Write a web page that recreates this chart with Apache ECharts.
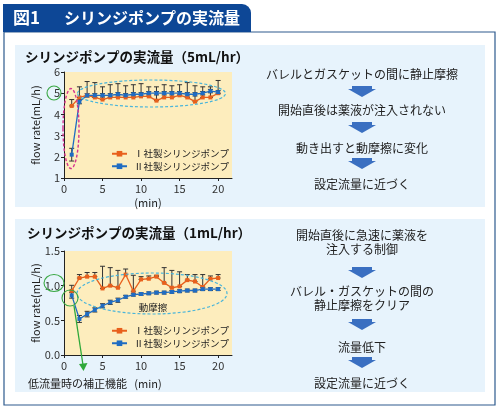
<!DOCTYPE html>
<html>
<head>
<meta charset="utf-8">
<script src="https://cdn.jsdelivr.net/npm/echarts@6.0.0/dist/echarts.min.js"></script>
<style>
  html, body { margin: 0; padding: 0; background: #fff; }
  #main { width: 500px; height: 408px; }
</style>
</head>
<body>
<div id="main"></div>
<script>
// time points (min)
const minutes = [1, 2, 3, 4, 5, 6, 7, 8, 9, 10, 11, 12, 13, 14, 15, 16, 17, 18, 19, 20];
const xTickValues = [0, 5, 10, 15, 20];
const pumpNames = ['Ⅰ社製シリンジポンプ', 'Ⅱ社製シリンジポンプ'];

// 5 mL/hr
const pumpI_5 = [4.4, 4.8, 4.9, 4.8, 4.7, 4.8, 4.8, 4.8, 4.8, 4.85, 4.85, 4.65, 4.8, 4.8, 4.9, 4.8, 4.6, 4.8, 4.8, 5.0];
const pumpII_5 = [2.1, 4.6, 4.9, 4.9, 4.9, 4.9, 4.95, 4.9, 4.95, 4.95, 5.0, 5.0, 5.0, 5.0, 5.0, 4.95, 4.95, 5.0, 5.1, 5.05];
const pumpI_5_errUp = [0.3, 0.5, 0.65, 0.7, 0.6, 0.6, 0.65, 0.55, 0.6, 0.6, 0.45, 0.65, 0.6, 0.55, 0.5, 0.7, 0.75, 0.5, 0.5, 0.6];
const pumpII_5_err = [0.3, 0.1, 0.08, 0.08, 0.08, 0.08, 0.08, 0.08, 0.08, 0.08, 0.08, 0.08, 0.08, 0.08, 0.08, 0.08, 0.08, 0.08, 0.08, 0.08];

// 1 mL/hr
const pumpI_1 = [0.925, 1.11, 1.13, 1.13, 0.96, 1.0, 0.97, 1.16, 0.92, 1.09, 1.1, 1.13, 1.04, 0.97, 0.99, 1.08, 1.06, 0.98, 1.1, 1.11];
const pumpII_1 = [0.86, 0.52, 0.59, 0.65, 0.71, 0.76, 0.79, 0.84, 0.87, 0.88, 0.89, 0.9, 0.9, 0.91, 0.92, 0.93, 0.93, 0.95, 0.95, 0.95];
const pumpI_1_errUp = [0.08, 0.05, 0.06, 0.06, 0.32, 0.26, 0.25, 0.08, 0.23, 0.04, 0.04, 0.02, 0.22, 0.25, 0.21, 0.08, 0.1, 0.18, 0.04, 0.05];
const pumpII_1_err = [0.04, 0.05, 0.04, 0.03, 0.03, 0.03, 0.03, 0.02, 0.02, 0.02, 0.02, 0.02, 0.02, 0.02, 0.02, 0.02, 0.02, 0.02, 0.02, 0.02];

// flow chart texts
const steps5 = ['バレルとガスケットの間に静止摩擦', '開始直後は薬液が注入されない', '動き出すと動摩擦に変化', '設定流量に近づく'];
const steps1 = ['開始直後に急速に薬液を\n注入する制御', 'バレル・ガスケットの間の\n静止摩擦をクリア', '流量低下', '設定流量に近づく'];

const FONT = '"Noto Sans CJK JP", "Noto Sans", sans-serif';
const ORANGE = '#e8601c';
const BLUE = '#1f6cc2';
const NAVY = '#0d4796';

const chart = echarts.init(document.getElementById('main'));

function errRender(params, api) {
  const x = api.value(0);
  const lo = api.coord([x, api.value(1)]);
  const hi = api.coord([x, api.value(2)]);
  const c = 2.5;
  const st = { stroke: '#333', lineWidth: 1 };
  return {
    type: 'group',
    children: [
      { type: 'line', shape: { x1: lo[0], y1: lo[1], x2: hi[0], y2: hi[1] }, style: st },
      { type: 'line', shape: { x1: hi[0] - c, y1: hi[1], x2: hi[0] + c, y2: hi[1] }, style: st },
      { type: 'line', shape: { x1: lo[0] - c, y1: lo[1], x2: lo[0] + c, y2: lo[1] }, style: st }
    ]
  };
}

const upOnly = (vals, up) => minutes.map((m, i) => [m, vals[i], +(vals[i] + up[i]).toFixed(3)]);
const both = (vals, sd) => minutes.map((m, i) => [m, +(vals[i] - sd[i]).toFixed(3), +(vals[i] + sd[i]).toFixed(3)]);
const pts = (vals) => minutes.map((m, i) => [m, vals[i]]);

function xAxisOf(idx, nameGap) {
  return {
    type: 'value', gridIndex: idx, min: 0, max: 21.8,
    name: '(min)', nameLocation: 'middle', nameGap: nameGap,
    nameTextStyle: { fontFamily: FONT, fontSize: 11, color: '#222' },
    axisLine: { lineStyle: { color: '#222', width: 1 } },
    axisTick: { customValues: xTickValues, length: 3, lineStyle: { color: '#222' } },
    axisLabel: { customValues: xTickValues, fontFamily: FONT, fontSize: 11, color: '#333', margin: 5 },
    splitLine: { show: false }
  };
}
function yAxisOf(idx, min, max, interval, fmt) {
  return {
    type: 'value', gridIndex: idx, min: min, max: max, interval: interval,
    name: 'flow rate(mL/h)', nameLocation: 'middle', nameGap: 23, nameRotate: 90,
    nameTextStyle: { fontFamily: FONT, fontSize: 11, color: '#222' },
    axisLine: { show: true, lineStyle: { color: '#222', width: 1 } },
    axisTick: { show: true, length: 3, lineStyle: { color: '#222' } },
    axisLabel: { fontFamily: FONT, fontSize: 11, color: '#333', margin: 4, formatter: fmt },
    splitLine: { show: false }
  };
}
function lineSeries(name, data, color, xi) {
  return {
    name: name, type: 'line', xAxisIndex: xi, yAxisIndex: xi, data: data,
    symbol: 'rect', symbolSize: 4, z: 4,
    lineStyle: { color: color, width: 1.3 }, itemStyle: { color: color },
    animation: false
  };
}
function errSeries(data, xi) {
  return {
    type: 'custom', xAxisIndex: xi, yAxisIndex: xi, data: data, z: 2,
    renderItem: errRender, encode: { x: 0, y: [1, 2] }, silent: true, animation: false
  };
}

// right side flow chart
function flowGraphics(texts, textYs, arrowYs) {
  const g = [];
  const cx = 362;
  texts.forEach((t, i) => {
    g.push({
      type: 'text', x: cx, y: textYs[i], z: 10,
      style: { text: t, fill: '#222', font: '12px ' + FONT, align: 'center', verticalAlign: 'middle', lineHeight: 14 }
    });
  });
  arrowYs.forEach((y0) => {
    g.push({
      type: 'polygon', z: 10,
      shape: { points: [[cx - 10, y0], [cx + 10, y0], [cx + 10, y0 + 3], [cx + 14, y0 + 3], [cx, y0 + 11], [cx - 14, y0 + 3], [cx - 10, y0 + 3]] },
      style: { fill: '#3a6fc1' }
    });
  });
  return g;
}

const dash = { stroke: '#4ab5da', lineWidth: 1.2, lineDash: [3, 2], fill: null };

const graphics = [
  // frame
  { type: 'rect', z: -10, shape: { x: 4, y: 32, width: 491, height: 373 }, style: { fill: '#fff', stroke: '#2e5a8e', lineWidth: 1.2 } },
  // header tab
  { type: 'rect', z: -9, shape: { x: 3, y: 4, width: 248, height: 28, r: [0, 9, 0, 0] }, style: { fill: NAVY } },
  { type: 'text', z: -8, x: 13, y: 18, style: { text: '図1', fill: '#fff', font: 'bold 17px ' + FONT, verticalAlign: 'middle' } },
  { type: 'text', z: -8, x: 64, y: 18, style: { text: 'シリンジポンプの実流量', fill: '#fff', font: 'bold 16px ' + FONT, verticalAlign: 'middle' } },
  // panels
  { type: 'rect', z: -9, shape: { x: 15, y: 45, width: 470, height: 162 }, style: { fill: '#e7f3fc' } },
  { type: 'rect', z: -9, shape: { x: 15, y: 219, width: 470, height: 173 }, style: { fill: '#e7f3fc' } },
  // chart titles
  { type: 'text', z: 10, x: 25, y: 57, style: { text: 'シリンジポンプの実流量（5mL/hr）', fill: '#111', font: 'bold 13.5px ' + FONT, verticalAlign: 'middle' } },
  { type: 'text', z: 10, x: 27, y: 233, style: { text: 'シリンジポンプの実流量（1mL/hr）', fill: '#111', font: 'bold 13.5px ' + FONT, verticalAlign: 'middle' } },
  // annotations chart 1
  { type: 'ellipse', z: 20, shape: { cx: 151.5, cy: 93.5, rx: 74, ry: 13.5 }, style: dash },
  { type: 'ellipse', z: 30, zlevel: 0, shape: { cx: 71, cy: 128.5, rx: 8, ry: 40 }, style: { stroke: '#d6338f', lineWidth: 1.4, lineDash: [3, 2], fill: null } },
  { type: 'circle', z: 20, shape: { cx: 54, cy: 93, r: 7 }, style: { stroke: '#3aa844', lineWidth: 1.1, fill: null } },
  // annotations chart 2
  { type: 'ellipse', z: 20, shape: { cx: 152, cy: 293.5, rx: 75, ry: 20.5 }, style: dash },
  { type: 'text', z: 20, x: 153, y: 307, style: { text: '動摩擦', fill: '#222', font: '9.5px ' + FONT, align: 'center', verticalAlign: 'middle' } },
  { type: 'ellipse', z: 20, shape: { cx: 54, cy: 283, rx: 10, ry: 8.5 }, style: { stroke: '#3aa844', lineWidth: 1.1, fill: null } },
  { type: 'circle', z: 20, shape: { cx: 70, cy: 298, r: 8 }, style: { stroke: '#3aa844', lineWidth: 1.1, fill: null } },
  { type: 'line', z: 20, shape: { x1: 74, y1: 306, x2: 83, y2: 365 }, style: { stroke: '#2fa83a', lineWidth: 1.3 } },
  { type: 'polygon', z: 20, shape: { points: [[79, 364], [87.5, 363], [83.5, 371]] }, style: { fill: '#2fa83a' } },
  { type: 'text', z: 10, x: 28, y: 384, style: { text: '低流量時の補正機能', fill: '#222', font: '11px ' + FONT, verticalAlign: 'middle' } }
].concat(
  flowGraphics(steps5, [74, 110, 148, 184], [86, 122, 158]),
  flowGraphics(steps1, [242, 298, 347, 383], [267, 319, 357])
);

const option = {
  animation: false,
  textStyle: { fontFamily: FONT },
  graphic: { elements: graphics },
  grid: [
    { left: 64, top: 72, width: 168, height: 106, show: true, backgroundColor: '#fdedbd', borderWidth: 0 },
    { left: 64, top: 251, width: 168, height: 104, show: true, backgroundColor: '#fdedbd', borderWidth: 0 }
  ],
  xAxis: [xAxisOf(0, 19), xAxisOf(1, 23)],
  yAxis: [
    yAxisOf(0, 1, 6, 1, (v) => String(v)),
    yAxisOf(1, 0, 1.5, 0.5, (v) => v.toFixed(1))
  ],
  legend: [
    {
      data: pumpNames, orient: 'vertical', left: 106, top: 144, itemGap: 3,
      itemWidth: 15, itemHeight: 7, selectedMode: false,
      textStyle: { fontFamily: FONT, fontSize: 9.5, color: '#222', padding: [0, 0, 0, 2] }
    },
    {
      data: pumpNames, orient: 'vertical', left: 106, top: 321, itemGap: 3,
      itemWidth: 15, itemHeight: 7, selectedMode: false,
      textStyle: { fontFamily: FONT, fontSize: 9.5, color: '#222', padding: [0, 0, 0, 2] }
    }
  ],
  series: [
    errSeries(upOnly(pumpI_5, pumpI_5_errUp), 0),
    errSeries(both(pumpII_5, pumpII_5_err), 0),
    lineSeries(pumpNames[0], pts(pumpI_5), ORANGE, 0),
    lineSeries(pumpNames[1], pts(pumpII_5), BLUE, 0),
    errSeries(upOnly(pumpI_1, pumpI_1_errUp), 1),
    errSeries(both(pumpII_1, pumpII_1_err), 1),
    lineSeries(pumpNames[0], pts(pumpI_1), ORANGE, 1),
    lineSeries(pumpNames[1], pts(pumpII_1), BLUE, 1)
  ]
};

chart.setOption(option);
</script>
</body>
</html>
